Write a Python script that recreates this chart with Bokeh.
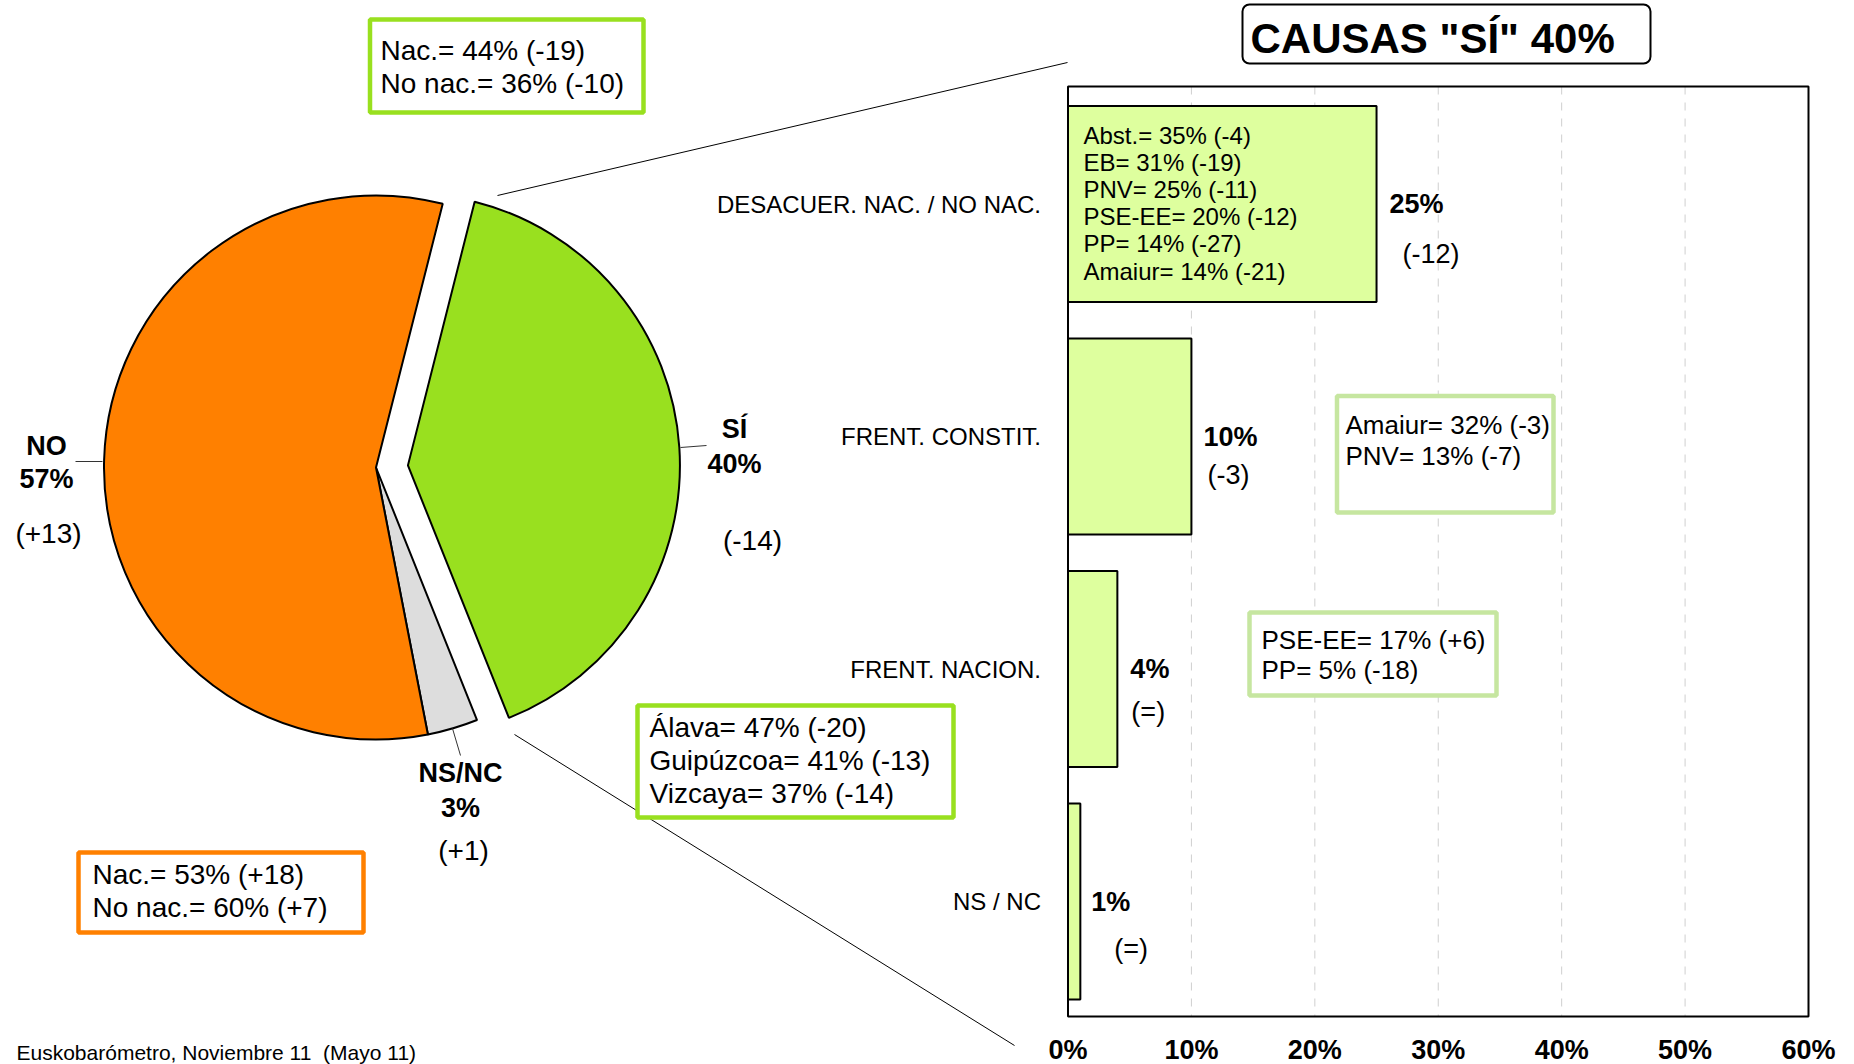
import numpy as np
from bokeh.plotting import figure
from bokeh.models import Range1d, LinearAxis, FixedTicker
from bokeh.core.properties import value
from bokeh.embed import file_html
from bokeh.resources import INLINE

# ---------------- data ----------------
pie_labels = ["SÍ", "NS/NC", "NO"]
pie_values = [40, 3, 57]
pie_changes = ["(-14)", "(+1)", "(+13)"]

bar_categories = ["DESACUER. NAC. / NO NAC.", "FRENT. CONSTIT.", "FRENT. NACION.", "NS / NC"]
bar_values = [25, 10, 4, 1]
bar_changes = ["(-12)", "(-3)", "(=)", "(=)"]

x_ticks = [0, 10, 20, 30, 40, 50, 60]
x_tick_labels = ["0%", "10%", "20%", "30%", "40%", "50%", "60%"]

title_text = 'CAUSAS "SÍ" 40%'
source_text = "Euskobarómetro, Noviembre 11  (Mayo 11)"

box_si_nac = ["Nac.= 44% (-19)", "No nac.= 36% (-10)"]
box_si_prov = ["Álava= 47% (-20)", "Guipúzcoa= 41% (-13)", "Vizcaya= 37% (-14)"]
box_no_nac = ["Nac.= 53% (+18)", "No nac.= 60% (+7)"]
box_desacuer = ["Abst.= 35% (-4)", "EB= 31% (-19)", "PNV= 25% (-11)",
                "PSE-EE= 20% (-12)", "PP= 14% (-27)", "Amaiur= 14% (-21)"]
box_constit = ["Amaiur= 32% (-3)", "PNV= 13% (-7)"]
box_nacion = ["PSE-EE= 17% (+6)", "PP= 5% (-18)"]

# ---------------- layout / style ----------------
FONT = "Liberation Sans"
W, H = 1854, 1064
X0, X60 = 1067.5, 1808.0          # pixel positions of 0% and 60%
PPU = (X60 - X0) / 60.0
C0, STEP = 203.5, 232.5           # first category centre, band step
FRAME_TOP, FRAME_BOT = 86, 1016
BAR_H = 0.843

GREEN = "#99E01F"
LIME_BORDER = "#99E01F"
PALE_BORDER = "#C6E6A0"
ORANGE = "#FF8000"
GREY = "#DDDDDD"
BAR_FILL = "#DEFF9E"
pie_colors = [GREEN, GREY, ORANGE]

p = figure(width=W, height=H,
           x_range=Range1d(0, W), y_range=Range1d(H, 0),
           x_axis_type=None, y_axis_type=None,
           toolbar_location=None, output_backend="svg",
           min_border=0, outline_line_color=None)
p.background_fill_color = "white"
p.border_fill_color = "white"

p.extra_x_ranges = {"pct": Range1d((0 - X0) / PPU, (W - X0) / PPU)}
p.extra_y_ranges = {"cat": Range1d((H - C0) / STEP, (0 - C0) / STEP)}


def add_text(xs, ys, texts, size, bold=False, align="left", **kw):
    p.text(x=xs, y=ys, text=texts, text_font=value(FONT),
           text_font_size=f"{size}px",
           text_font_style="bold" if bold else "normal",
           text_align=align, text_baseline="middle", text_color="black", **kw)


# ---------------- bar chart ----------------
idx = list(range(len(bar_categories)))
grid_x = x_ticks[1:-1]
p.segment(x0=grid_x, y0=[FRAME_TOP] * len(grid_x), x1=grid_x, y1=[FRAME_BOT] * len(grid_x),
          x_range_name="pct", line_color="#CFCFCF", line_width=1, line_dash="8 8")

p.hbar(y=idx, left=0, right=bar_values, height=BAR_H,
       x_range_name="pct", y_range_name="cat",
       fill_color=BAR_FILL, line_color="black", line_width=2)

p.quad(left=[x_ticks[0]], right=[x_ticks[-1]], top=[FRAME_TOP], bottom=[FRAME_BOT],
       x_range_name="pct", fill_color=None, line_color="black", line_width=2)

val_dx = [13, 12, 13, 11]
chg_dx = [26, 16, 14, 34]
chg_dy = [50, 38, 43, 47]
add_text(bar_values, idx, [f"{v}%" for v in bar_values], 27, bold=True,
         x_offset=val_dx, x_range_name="pct", y_range_name="cat")
add_text(bar_values, idx, bar_changes, 27,
         x_offset=chg_dx, y_offset=chg_dy, x_range_name="pct", y_range_name="cat")

yaxis = LinearAxis(x_range_name="pct", y_range_name="cat", fixed_location=0,
                   ticker=FixedTicker(ticks=idx),
                   major_label_overrides={i: c for i, c in zip(idx, bar_categories)})
yaxis.axis_line_color = None
yaxis.major_tick_line_color = None
yaxis.minor_tick_line_color = None
yaxis.major_label_standoff = 21
yaxis.major_label_text_font = FONT
yaxis.major_label_text_font_size = "24px"
yaxis.major_label_text_color = "black"
p.add_layout(yaxis, "left")

xaxis = LinearAxis(x_range_name="pct", fixed_location=FRAME_BOT,
                   ticker=FixedTicker(ticks=x_ticks),
                   major_label_overrides=dict(zip(x_ticks, x_tick_labels)))
xaxis.axis_line_color = None
xaxis.major_tick_line_color = None
xaxis.minor_tick_line_color = None
xaxis.major_label_standoff = 12
xaxis.major_label_text_font = FONT
xaxis.major_label_text_font_size = "27px"
xaxis.major_label_text_font_style = "bold"
xaxis.major_label_text_color = "black"
p.add_layout(xaxis, "below")

# ---------------- pie ----------------
CX, CY, R = 375.5, 467.0, 272.0
START = 14.2                     # compass degrees, clockwise from 12 o'clock
explode = np.array([32.0, 0.0, 0.0])
vals = np.array(pie_values, dtype=float)
a = START + 3.6 * np.concatenate([[0], np.cumsum(vals)[:-1]])
b = a + 3.6 * vals
mid = np.radians((a + b) / 2)
wx = CX + explode * np.sin(mid)
wy = CY - explode * np.cos(mid)
p.wedge(x=wx, y=wy, radius=R, start_angle=np.radians(90 - a), end_angle=np.radians(90 - b),
        direction="clock", fill_color=pie_colors, line_color="black", line_width=2)

# pie labels (layout positions per slice)
lab_x = [734, 460, 46]
name_y = [428, 772, 445]
pct_y = [463, 807, 478]
chg_x = [752, 463, 48]
chg_y = [540, 850, 533]
add_text(lab_x, name_y, pie_labels, 27, bold=True, align="center")
add_text(lab_x, pct_y, [f"{v}%" for v in pie_values], 27, bold=True, align="center")
add_text(chg_x, chg_y, pie_changes, 28, align="center")

# leader lines
p.segment(x0=[680, 452, 75], y0=[447, 728, 461], x1=[706, 460, 102], y1=[445, 755, 461],
          line_color="#333333", line_width=1)

# connector lines pie -> bars
p.segment(x0=[497, 514], y0=[195, 734], x1=[1067, 1014], y1=[62, 1045],
          line_color="black", line_width=1)

# ---------------- boxes ----------------
box_l = [369.5, 637, 78, 1336.5, 1249]
box_r = [643, 953, 363, 1553, 1496]
box_t = [19, 705, 852, 395.5, 612]
box_b = [112, 817, 932, 512, 695]
box_c = [LIME_BORDER, LIME_BORDER, ORANGE, PALE_BORDER, PALE_BORDER]
p.quad(left=box_l, right=box_r, top=box_t, bottom=box_b,
       fill_color="white", line_color=box_c, line_width=4.5)


def box_lines(x, y0, dy, lines, size):
    add_text([x] * len(lines), [y0 + k * dy for k in range(len(lines))], lines, size)


box_lines(380, 50, 33, box_si_nac, 28)
box_lines(649, 727, 33, box_si_prov, 28)
box_lines(92, 874, 33, box_no_nac, 28)
box_lines(1083, 135, 27.1, box_desacuer, 24)
box_lines(1345, 424, 31, box_constit, 26)
box_lines(1261, 639, 30, box_nacion, 26)

# ---------------- title ----------------
try:
    p.quad(left=[1242], right=[1650], top=[4], bottom=[63], fill_color="white",
           line_color="black", line_width=2, border_radius=7)
except Exception:
    p.quad(left=[1242], right=[1650], top=[4], bottom=[63], fill_color="white",
           line_color="black", line_width=2)
add_text([1250], [38], [title_text], 42, bold=True)

# ---------------- source ----------------
add_text([16], [1052], [source_text.replace("  ", "\u00a0 ")], 21)

open("out.html", "w").write(file_html(p, INLINE))
